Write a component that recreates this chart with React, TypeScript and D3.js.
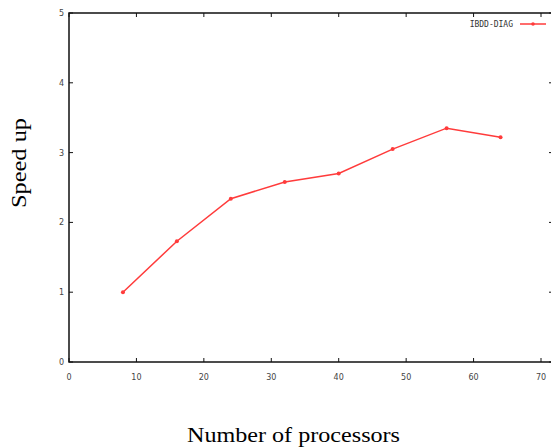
import React from "react";
import * as d3 from "d3";

const processors = [8, 16, 24, 32, 40, 48, 56, 64];
const speedup = [1.0, 1.73, 2.34, 2.58, 2.7, 3.05, 3.35, 3.22];
const xTicks = [0, 10, 20, 30, 40, 50, 60, 70];
const yTicks = [0, 1, 2, 3, 4, 5];
const seriesName = "IBDD-DIAG";
const xTitle = "Number of processors";
const yTitle = "Speed up";

export default function App() {
  const W = 551, H = 448;
  const left = 69, top = 13, bottom = 362, right = 553;
  const x = d3.scaleLinear().domain([0, 70]).range([left, left + 472]);
  const y = d3.scaleLinear().domain([0, 5]).range([bottom, top]);
  const line = d3.line<number>().x((_, i) => x(processors[i])).y((d) => y(d));
  const red = "#ff3b3b";
  return (
    <svg width={W} height={H} style={{ position: "absolute", left: 0, top: 0 }}>
      <rect x={0} y={0} width={W} height={H} fill="#fff" />
      {/* frame */}
      <rect x={left} y={top} width={right - left} height={bottom - top} fill="none" stroke="#111" strokeWidth={1.5} />
      {xTicks.map((t) => (
        <g key={"x" + t}>
          <line x1={x(t)} x2={x(t)} y1={bottom} y2={bottom - 4} stroke="#111" strokeWidth={1} />
          <line x1={x(t)} x2={x(t)} y1={top} y2={top + 4} stroke="#111" strokeWidth={1} />
          <text x={x(t)} y={380} fontSize={8} fontFamily="DejaVu Sans" fill="#444" textAnchor="middle">{t}</text>
        </g>
      ))}
      {yTicks.map((t) => (
        <g key={"y" + t}>
          <line x1={left} x2={left + 4} y1={y(t)} y2={y(t)} stroke="#111" strokeWidth={1} />
          <line x1={right} x2={right - 4} y1={y(t)} y2={y(t)} stroke="#111" strokeWidth={1} />
          <text x={64} y={y(t) + 3} fontSize={8} fontFamily="DejaVu Sans" fill="#444" textAnchor="end">{t}</text>
        </g>
      ))}
      <path d={line(speedup) || ""} fill="none" stroke={red} strokeWidth={1.5} />
      {speedup.map((v, i) => (
        <circle key={i} cx={x(processors[i])} cy={y(v)} r={2} fill={red} />
      ))}
      {/* legend */}
      <text x={513} y={27} fontSize={8} fontFamily="DejaVu Sans Mono" fill="#333" textAnchor="end">{seriesName}</text>
      <line x1={520} x2={546} y1={24} y2={24} stroke={red} strokeWidth={1.5} />
      <circle cx={533} cy={24} r={1.8} fill={red} />
      <text x={187} y={442} fontSize={21} fontFamily="Liberation Serif" textLength={213} lengthAdjust="spacingAndGlyphs">{xTitle}</text>
      <text transform="translate(26,208) rotate(-90)" fontSize={21} fontFamily="Liberation Serif" textLength={90} lengthAdjust="spacingAndGlyphs">{yTitle}</text>
    </svg>
  );
}
